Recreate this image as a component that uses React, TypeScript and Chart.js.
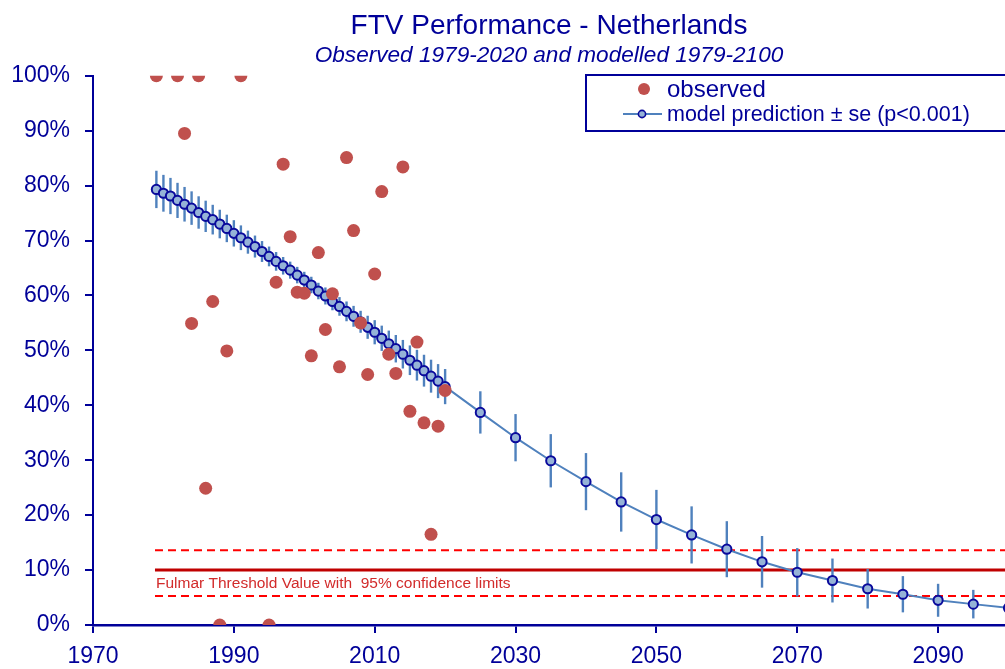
import React, { useEffect, useRef } from 'react';
import { Chart, registerables } from 'chart.js';

Chart.register(...registerables);

// ---------- data ----------
const obsYears = [1979, 1982, 1983, 1984, 1985, 1986, 1987, 1988, 1989, 1991, 1995, 1996, 1997, 1998, 1999, 2000, 2001, 2002, 2003, 2004, 2005, 2006, 2007, 2008, 2009, 2010, 2011, 2012, 2013, 2014, 2015, 2016, 2017, 2018, 2019, 2020];
const obsValues = [100, 100, 89.5, 54.9, 100, 24.9, 58.9, 0, 49.9, 100, 0, 62.4, 83.9, 70.7, 60.6, 60.4, 49.0, 67.8, 53.8, 60.3, 47.0, 85.1, 71.8, 55.0, 45.6, 63.9, 78.9, 49.3, 45.8, 83.4, 38.9, 51.5, 36.8, 16.5, 36.2, 42.7];

const modelYears = [
  1979, 1980, 1981, 1982, 1983, 1984, 1985, 1986, 1987, 1988,
  1989, 1990, 1991, 1992, 1993, 1994, 1995, 1996, 1997, 1998,
  1999, 2000, 2001, 2002, 2003, 2004, 2005, 2006, 2007, 2008,
  2009, 2010, 2011, 2012, 2013, 2014, 2015, 2016, 2017, 2018,
  2019, 2020,
  2025, 2030, 2035, 2040, 2045, 2050, 2055, 2060, 2065, 2070,
  2075, 2080, 2085, 2090, 2095, 2100,
];
const modelValues = [
  79.3, 78.6, 78.1, 77.3, 76.6, 75.9, 75.1, 74.4, 73.8, 73.0,
  72.2, 71.3, 70.5, 69.7, 68.9, 68.0, 67.1, 66.2, 65.4, 64.6,
  63.7, 62.8, 61.9, 60.8, 59.9, 58.9, 58.0, 57.1, 56.2, 55.2,
  54.2, 53.3, 52.2, 51.2, 50.3, 49.3, 48.2, 47.3, 46.3, 45.3,
  44.4, 43.4,
  38.7, 34.1, 29.9, 26.1, 22.4, 19.2, 16.4, 13.8, 11.5, 9.6,
  8.1, 6.6, 5.6, 4.5, 3.8, 3.1,
];
const modelSE = [
  3.4, 3.35, 3.3, 3.2, 3.15, 3.05, 2.95, 2.85, 2.7, 2.6,
  2.5, 2.4, 2.25, 2.1, 2.0, 1.9, 1.8, 1.7, 1.6, 1.55,
  1.5, 1.5, 1.5, 1.5, 1.55, 1.6, 1.7, 1.8, 1.9, 2.0,
  2.1, 2.2, 2.3, 2.4, 2.5, 2.6, 2.7, 2.8, 2.9, 3.0,
  3.1, 3.2,
  3.85, 4.3, 4.85, 5.2, 5.4, 5.4, 5.2, 5.1, 4.7, 4.4,
  4.0, 3.6, 3.3, 3.0, 2.6, 2.3,
];

const ftvYears = [1978.8, 2100];
const ftvValue = 10;
const ftvLower = 5.3;
const ftvUpper = 13.6;

const xTickValues = [1970, 1990, 2010, 2030, 2050, 2070, 2090];

const TITLE = 'FTV Performance - Netherlands';
const SUBTITLE = 'Observed 1979-2020 and modelled 1979-2100';
const OBS_LABEL = 'observed';
const MODEL_LABEL = 'model prediction \u00B1 se (p<0.001)';
const FTV_LABEL = 'Fulmar Threshold Value with  95% confidence limits';

// ---------- styles ----------
const NAVY = '#000099';
const OBS_COLOR = '#C0504D';
const LINE_COLOR = '#4F81BD';
const POINT_FILL = '#95B3D7';
const POINT_BORDER = '#0A0A9C';
const FTV_SOLID = '#C00000';
const FTV_DASH = '#FF0000';
const FTV_TEXT = '#D22B2B';
const FONT = "'Liberation Sans', Arial, Helvetica, sans-serif";

export default function App() {
  const ref = useRef<HTMLCanvasElement>(null);

  useEffect(() => {
    document.body.style.margin = '0';
    const canvas = ref.current;
    if (!canvas) return;

    const MODEL_INDEX = 1;

    const errorBars = {
      id: 'errorBars',
      beforeDatasetDraw(chart: any, args: any) {
        if (args.index !== MODEL_INDEX) return;
        const { ctx, chartArea, scales } = chart;
        const x = scales.x;
        const y = scales.y;
        ctx.save();
        ctx.beginPath();
        ctx.rect(chartArea.left, 0, chartArea.right - chartArea.left, chart.height);
        ctx.clip();
        ctx.strokeStyle = LINE_COLOR;
        ctx.lineWidth = 2.4;
        modelYears.forEach((yr, i) => {
          const px = x.getPixelForValue(yr);
          ctx.beginPath();
          ctx.moveTo(px, y.getPixelForValue(modelValues[i] + modelSE[i]));
          ctx.lineTo(px, y.getPixelForValue(modelValues[i] - modelSE[i]));
          ctx.stroke();
        });
        ctx.restore();
      },
    };

    const overlay = {
      id: 'overlay',
      afterDatasetsDraw(chart: any) {
        const { ctx, scales } = chart;
        ctx.save();
        ctx.fillStyle = FTV_TEXT;
        ctx.font = `15.5px ${FONT}`;
        ctx.textBaseline = 'middle';
        ctx.textAlign = 'left';
        ctx.fillText(FTV_LABEL, scales.x.getPixelForValue(ftvYears[0]) + 1, scales.y.getPixelForValue(ftvValue) + 14);
        ctx.restore();
      },
      afterDraw(chart: any) {
        const { ctx } = chart;
        ctx.save();
        // legend box
        ctx.fillStyle = '#FFFFFF';
        ctx.fillRect(586, 75, 430, 56);
        ctx.strokeStyle = NAVY;
        ctx.lineWidth = 2;
        ctx.strokeRect(586, 75, 430, 56);
        // observed
        ctx.fillStyle = OBS_COLOR;
        ctx.beginPath();
        ctx.arc(644, 89, 6, 0, Math.PI * 2);
        ctx.fill();
        ctx.fillStyle = NAVY;
        ctx.textBaseline = 'middle';
        ctx.textAlign = 'left';
        ctx.font = `24px ${FONT}`;
        ctx.fillText(chart.data.datasets[0].label, 667, 90);
        // model
        ctx.strokeStyle = LINE_COLOR;
        ctx.lineWidth = 2;
        ctx.beginPath();
        ctx.moveTo(623, 114);
        ctx.lineTo(662, 114);
        ctx.stroke();
        ctx.fillStyle = POINT_FILL;
        ctx.strokeStyle = POINT_BORDER;
        ctx.lineWidth = 1.6;
        ctx.beginPath();
        ctx.arc(642, 114, 3.6, 0, Math.PI * 2);
        ctx.fill();
        ctx.stroke();
        ctx.fillStyle = NAVY;
        ctx.font = `21.5px ${FONT}`;
        ctx.fillText(chart.data.datasets[1].label, 667, 115);
        ctx.restore();
      },
    };

    const chart = new Chart(canvas, {
      type: 'scatter',
      data: {
        datasets: [
          {
            label: OBS_LABEL,
            data: obsYears.map((yr, i) => ({ x: yr, y: obsValues[i] })),
            pointRadius: 6.5,
            pointBackgroundColor: OBS_COLOR,
            pointBorderWidth: 0,
            showLine: false,
            order: 0,
          },
          {
            label: MODEL_LABEL,
            data: modelYears.map((yr, i) => ({ x: yr, y: modelValues[i] })),
            showLine: true,
            borderColor: LINE_COLOR,
            borderWidth: 2,
            pointRadius: 4.6,
            pointBackgroundColor: POINT_FILL,
            pointBorderColor: POINT_BORDER,
            pointBorderWidth: 2,
            tension: 0,
            order: 1,
          },
          {
            label: 'FTV',
            data: ftvYears.map((yr) => ({ x: yr, y: ftvValue })),
            showLine: true,
            borderColor: FTV_SOLID,
            borderWidth: 3,
            pointRadius: 0,
            order: 2,
          },
          {
            label: 'FTV upper',
            data: ftvYears.map((yr) => ({ x: yr, y: ftvUpper })),
            showLine: true,
            borderColor: FTV_DASH,
            borderWidth: 2,
            borderDash: [8, 5],
            pointRadius: 0,
            order: 3,
          },
          {
            label: 'FTV lower',
            data: ftvYears.map((yr) => ({ x: yr, y: ftvLower })),
            showLine: true,
            borderColor: FTV_DASH,
            borderWidth: 2,
            borderDash: [8, 5],
            pointRadius: 0,
            order: 4,
          },
        ],
      },
      options: {
        animation: false,
        responsive: false,
        events: [],
        layout: { autoPadding: false, padding: { left: 0, right: 0, top: 0, bottom: 0 } },
        plugins: {
          legend: { display: false },
          tooltip: { enabled: false },
          title: {
            display: true,
            text: TITLE,
            color: NAVY,
            fullSize: false,
            font: { family: FONT, size: 28, weight: 'normal' },
            padding: { top: 9, bottom: 0 },
          },
          subtitle: {
            display: true,
            text: SUBTITLE,
            color: NAVY,
            fullSize: false,
            font: { family: FONT, size: 22.6, style: 'italic', weight: 'normal' },
            padding: { top: 0, bottom: 6 },
          },
        },
        scales: {
          x: {
            type: 'linear',
            min: 1970,
            max: 2099.5,
            afterBuildTicks: (s: any) => {
              s.ticks = xTickValues.map((v) => ({ value: v }));
            },
            afterFit: (s: any) => {
              s.paddingRight = 0;
              s.paddingLeft = 0;
              s.height = 44;
            },
            ticks: {
              stepSize: 20,
              color: NAVY,
              font: { family: FONT, size: 23 },
              padding: 9.5,
              maxRotation: 0,
              autoSkip: false,
              callback: (v: any) => String(v),
            },
            grid: { drawOnChartArea: false, drawTicks: true, tickLength: 8, color: NAVY, lineWidth: 2 },
            border: { color: NAVY, width: 2.5 },
          },
          y: {
            min: 0,
            max: 100,
            afterFit: (s: any) => {
              s.width = 93;
            },
            ticks: {
              stepSize: 10,
              color: NAVY,
              font: { family: FONT, size: 23 },
              padding: 15,
              callback: (v: any) => `${v}%`,
            },
            grid: { drawOnChartArea: false, drawTicks: true, tickLength: 8, color: NAVY, lineWidth: 2 },
            border: { color: NAVY, width: 2 },
          },
        },
      },
      plugins: [errorBars, overlay],
    } as any);

    return () => chart.destroy();
  }, []);

  return (
    <div style={{ width: 1005, height: 669 }}>
      <canvas ref={ref} width={1005} height={669} style={{ display: 'block' }} />
    </div>
  );
}
